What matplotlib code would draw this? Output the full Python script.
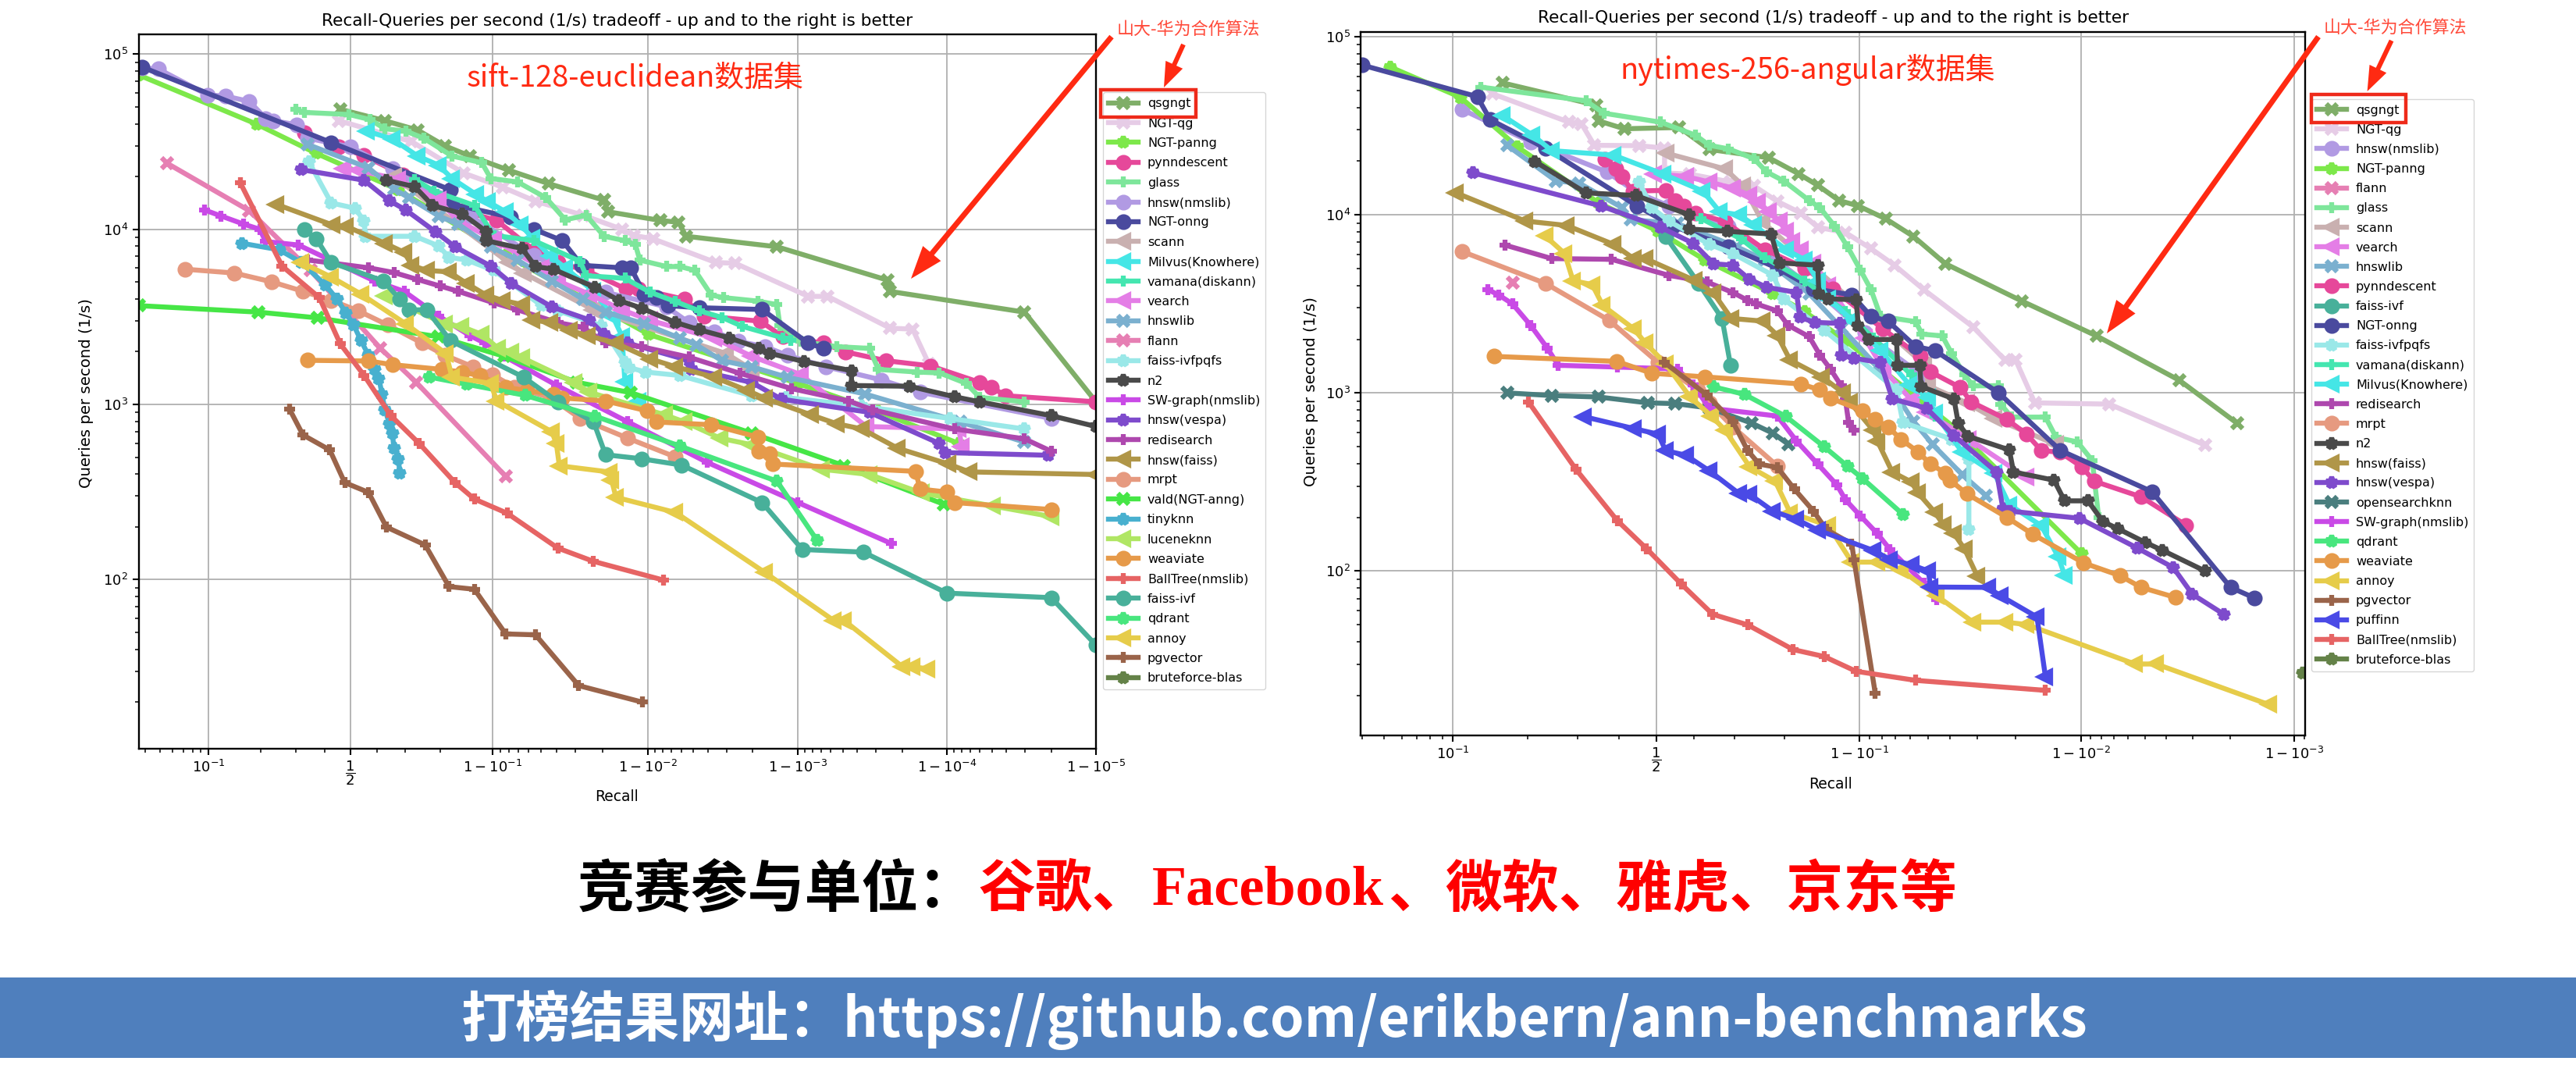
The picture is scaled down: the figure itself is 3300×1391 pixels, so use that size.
import numpy as np
import matplotlib
matplotlib.use('Agg')
from matplotlib import pyplot as plt
from matplotlib.patches import FancyArrow, Rectangle

W, H = 3300, 1391
plt.rcParams['font.family'] = ['DejaVu Sans']
plt.rcParams['mathtext.fontset'] = 'dejavusans'

# Curves as log10(recall odds) (x) and log10(QPS) (y),
# both axes being decade scales there. Converted to recall and QPS before plotting.
sift_qsgngt_x = [-0.07, 0.227, 0.45, 0.63, 0.80, 1.064, 1.33, 1.70, 1.725, 2.08, 2.2, 2.25, 2.86, 3.6, 3.62, 4.52, 5.0]
sift_qsgngt_y = [4.685, 4.62, 4.566, 4.477, 4.418, 4.336, 4.26, 4.166, 4.10, 4.05, 4.04, 3.96, 3.90, 3.71, 3.645, 3.527, 3.015]
sift_ngtqg_x = [-0.08, 0.41, 0.76, 1.02, 1.24, 1.56, 1.82, 1.9, 2.03, 2.45, 2.58, 3.07, 3.2, 3.62, 3.77, 3.88]
sift_ngtqg_y = [4.62, 4.50, 4.32, 4.24, 4.16, 4.08, 4.0, 3.965, 3.945, 3.81, 3.806, 3.617, 3.617, 3.435, 3.43, 3.23]
sift_panng_x = [-1.42, -0.63, -0.23, 0.32, 1.04, 2.0, 3.0, 3.54, 4.08]
sift_panng_y = [4.88, 4.60, 4.433, 4.225, 3.853, 3.4, 3.12, 2.96, 2.777]
sift_pynn_x = [-0.31, -0.08, 0.09, 0.35, 0.75, 0.98, 1.23, 1.39, 1.58, 1.845, 1.93, 2.24, 2.37, 2.75, 2.9, 3.17, 3.32, 3.59, 3.89, 4.22, 4.3, 4.39, 5.0]
sift_pynn_y = [4.55, 4.47, 4.42, 4.31, 4.106, 4.05, 3.88, 3.81, 3.765, 3.66, 3.66, 3.60, 3.505, 3.475, 3.386, 3.35, 3.3, 3.25, 3.22, 3.126, 3.1, 3.05, 3.015]
sift_glass_x = [-0.37, -0.31, -0.01, 0.13, 0.23, 0.37, 0.49, 0.68, 0.88, 0.94, 1.12, 1.31, 1.44, 1.58, 1.70, 1.84, 1.91, 1.94, 2.12, 2.21, 2.31, 2.42, 2.5, 2.73, 2.86, 2.88, 3.02, 3.26, 3.48, 3.54, 3.8, 3.95, 4.13, 4.22, 4.52]
sift_glass_y = [4.685, 4.667, 4.655, 4.626, 4.574, 4.56, 4.52, 4.418, 4.38, 4.29, 4.27, 4.18, 4.054, 4.08, 3.96, 3.935, 3.913, 3.824, 3.787, 3.787, 3.765, 3.624, 3.61, 3.59, 3.57, 3.45, 3.36, 3.33, 3.32, 3.2, 3.185, 3.18, 3.12, 3.04, 3.015]
sift_hnsw_x = [-1.4, -1.29, -0.96, -0.84, -0.68, -0.57, -0.52, -0.36, -0.29, 0.0, 0.28, 0.59, 0.8, 1.23, 1.71, 2.12, 2.27, 2.44, 2.6, 2.78, 2.93, 3.19, 3.56, 3.82, 4.7]
sift_hnsw_y = [4.92, 4.915, 4.767, 4.76, 4.73, 4.633, 4.62, 4.596, 4.52, 4.47, 4.344, 4.18, 4.076, 3.85, 3.64, 3.557, 3.467, 3.416, 3.36, 3.33, 3.28, 3.215, 3.14, 3.07, 2.92]
sift_onng_x = [-1.4, -0.13, 0.67, 0.68, 1.07, 1.23, 1.42, 1.55, 1.82, 1.88, 1.97, 2.05, 2.13, 2.34, 2.76, 3.07, 3.17]
sift_onng_y = [4.926, 4.495, 4.225, 4.143, 4.07, 4.0, 3.935, 3.794, 3.78, 3.78, 3.63, 3.61, 3.564, 3.552, 3.542, 3.35, 3.32]
sift_scann_x = [0.29, 1.06, 1.16, 1.63, 2.52, 2.69]
sift_scann_y = [4.3, 3.81, 3.75, 3.54, 3.29, 3.2]
sift_milvus_x = [0.11, 0.28, 0.45, 0.59, 0.68, 0.84, 0.92, 1.04, 1.14, 1.22, 1.34, 1.44, 1.63, 1.76, 1.82, 1.84, 1.93]
sift_milvus_y = [4.56, 4.515, 4.418, 4.366, 4.29, 4.2, 4.158, 4.1, 4.025, 3.95, 3.846, 3.78, 3.645, 3.5, 3.39, 3.13, 3.02]
sift_vamana_x = [0.43, 0.56, 0.83, 0.96, 1.23, 1.54, 1.58, 1.84, 2.01, 2.18, 2.34, 2.49, 2.63, 2.9, 2.95]
sift_vamana_y = [4.285, 4.217, 4.136, 3.965, 3.935, 3.817, 3.735, 3.72, 3.64, 3.587, 3.534, 3.497, 3.445, 3.38, 3.365]
sift_vearch_x = [-0.05, 0.05, 0.32, 0.59, 0.72, 0.96, 1.28, 1.39, 1.6, 1.82, 2.01, 2.44, 2.69, 3.02, 3.46, 4.08, 4.1]
sift_vearch_y = [4.344, 4.336, 4.285, 4.166, 4.05, 3.94, 3.78, 3.705, 3.63, 3.54, 3.48, 3.378, 3.275, 3.17, 2.874, 2.86, 2.76]
sift_hnswlib_x = [-0.29, 0.12, 0.29, 0.39, 0.59, 0.72, 0.94, 1.12, 1.35, 1.56, 1.71, 1.97, 2.21, 2.32, 2.49, 2.69, 2.93, 3.45, 4.09, 4.52]
sift_hnswlib_y = [4.485, 4.35, 4.23, 4.18, 4.076, 4.03, 3.9, 3.824, 3.705, 3.6, 3.527, 3.46, 3.378, 3.34, 3.25, 3.215, 3.155, 3.06, 2.90, 2.785]
sift_flann_x = [-1.23, -0.68, -0.27, 0.2, 0.44, 1.04]
sift_flann_y = [4.376, 4.106, 3.765, 3.32, 3.126, 2.59]
sift_ivfpq_x = [-0.28, -0.13, 0.03, 0.09, 0.1, 0.43, 0.59, 0.66, 0.78, 0.96, 1.28, 1.39, 1.68, 1.84, 1.87, 1.98, 2.21, 2.69, 2.92, 3.43, 4.02, 4.52]
sift_ivfpq_y = [4.385, 4.15, 4.12, 4.047, 3.96, 3.96, 3.905, 3.84, 3.824, 3.765, 3.565, 3.535, 3.45, 3.24, 3.21, 3.185, 3.165, 3.05, 3.04, 2.99, 2.92, 2.86]
sift_n2_x = [0.24, 0.43, 0.55, 0.75, 0.91, 0.91, 1.15, 1.24, 1.36, 1.64, 1.8, 1.95, 2.18, 2.34, 2.54, 2.74, 2.81, 3.04, 3.36, 3.36, 3.75, 4.05, 4.22, 4.7, 5.0]
sift_n2_y = [4.28, 4.243, 4.136, 4.088, 3.987, 3.935, 3.89, 3.787, 3.772, 3.668, 3.594, 3.55, 3.468, 3.426, 3.38, 3.322, 3.292, 3.245, 3.193, 3.108, 3.104, 3.044, 3.015, 2.936, 2.874]
sift_swgraph_x = [-0.98, -0.87, -0.72, -0.61, -0.57, -0.35, 0.16, 0.36, 0.59, 0.8, 0.9, 1.03, 1.38, 1.86, 2.39, 3.0, 3.63]
sift_swgraph_y = [4.11, 4.076, 4.03, 4.0, 3.93, 3.91, 3.705, 3.645, 3.505, 3.393, 3.35, 3.275, 3.11, 2.90, 2.67, 2.44, 2.205]
sift_vespa_x = [-0.33, 0.09, 0.26, 0.37, 0.57, 0.7, 0.94, 1.08, 1.35, 1.6, 1.7, 1.86, 2.27, 2.29, 2.69, 2.89, 3.48, 3.95, 3.99, 4.68]
sift_vespa_y = [4.34, 4.28, 4.163, 4.11, 3.985, 3.9, 3.79, 3.69, 3.557, 3.483, 3.40, 3.35, 3.25, 3.2, 3.126, 3.03, 2.955, 2.777, 2.725, 2.71]
sift_redis_x = [-0.29, 0.12, 0.29, 0.45, 0.6, 0.72, 0.96, 1.12, 1.39, 1.56, 1.71, 1.95, 2.27, 2.61, 2.96, 3.34, 3.5, 4.05, 4.52, 4.7]
sift_redis_y = [3.825, 3.78, 3.753, 3.713, 3.676, 3.646, 3.58, 3.54, 3.467, 3.44, 3.35, 3.33, 3.27, 3.178, 3.09, 3.02, 2.97, 2.86, 2.804, 2.733]
sift_faiss_x = [-0.5, -0.12, -0.03, 0.23, 0.36, 0.41, 0.51, 0.66, 0.78, 0.91, 1.02, 1.15, 1.22, 1.34, 1.47, 1.59, 1.78, 2.01, 2.18, 2.44, 2.66, 2.78, 3.09, 3.26, 3.43, 3.67, 4.01, 4.15, 5.0]
sift_faiss_y = [4.143, 4.024, 4.017, 3.92, 3.868, 3.794, 3.765, 3.757, 3.69, 3.624, 3.594, 3.57, 3.483, 3.467, 3.423, 3.393, 3.35, 3.26, 3.215, 3.155, 3.08, 3.035, 2.94, 2.89, 2.86, 2.75, 2.66, 2.615, 2.6]
sift_mrpt_x = [-1.11, -0.78, -0.53, -0.32, -0.13, 0.05, 0.25, 0.48, 0.63, 0.82, 0.95, 1.1, 1.34, 1.54, 1.86, 2.18]
sift_mrpt_y = [3.772, 3.75, 3.70, 3.646, 3.594, 3.535, 3.453, 3.35, 3.282, 3.215, 3.17, 3.097, 3.04, 2.92, 2.807, 2.70]
sift_vald_x = [-1.42, -0.62, -0.22, 0.59, 1.03, 1.52, 1.88, 2.69, 3.31, 3.98]
sift_vald_y = [3.564, 3.527, 3.494, 3.386, 3.275, 3.126, 3.067, 2.836, 2.65, 2.43]
sift_tiny_x = [-0.73, -0.48, -0.33, -0.17, -0.09, -0.03, 0.02, 0.07, 0.12, 0.16, 0.19, 0.21, 0.23, 0.26, 0.28, 0.29, 0.32, 0.33]
sift_tiny_y = [3.92, 3.883, 3.81, 3.683, 3.6, 3.52, 3.453, 3.364, 3.28, 3.2, 3.148, 3.06, 2.97, 2.89, 2.837, 2.75, 2.69, 2.61]
sift_lucene_x = [0.23, 0.63, 0.74, 0.88, 0.99, 1.08, 1.15, 1.5, 1.6, 2.11, 2.24, 2.48, 2.69, 3.16, 3.48, 3.83, 4.31, 4.7]
sift_lucene_y = [3.62, 3.46, 3.446, 3.4, 3.32, 3.3, 3.267, 3.126, 3.07, 2.94, 2.9, 2.807, 2.77, 2.63, 2.6, 2.495, 2.42, 2.36]
sift_weaviate_x = [-0.29, 0.12, 0.28, 0.61, 0.75, 0.87, 1.04, 1.18, 1.36, 1.42, 1.71, 1.99, 2.05, 2.42, 2.73, 2.74, 2.81, 2.83, 3.79, 3.82, 4.0, 4.05, 4.7]
sift_weaviate_y = [3.252, 3.248, 3.227, 3.2, 3.185, 3.163, 3.097, 3.08, 3.06, 3.037, 3.02, 2.963, 2.9, 2.884, 2.814, 2.733, 2.718, 2.66, 2.618, 2.517, 2.5, 2.44, 2.4]
sift_ball_x = [-0.74, -0.46, -0.21, -0.07, 0.09, 0.27, 0.46, 0.7, 0.83, 1.05, 1.39, 1.63, 2.1]
sift_ball_y = [4.265, 3.79, 3.61, 3.346, 3.166, 2.936, 2.777, 2.554, 2.46, 2.379, 2.18, 2.104, 1.997]
sift_ivf_x = [-0.31, -0.23, -0.13, 0.22, 0.33, 0.39, 0.51, 0.67, 1.16, 1.39, 1.63, 1.71, 1.95, 2.22, 2.76, 3.03, 3.44, 4.0, 4.7, 5.0]
sift_ivf_y = [4.0, 3.946, 3.81, 3.705, 3.6, 3.54, 3.54, 3.364, 3.156, 3.015, 2.90, 2.713, 2.69, 2.654, 2.44, 2.172, 2.157, 1.923, 1.897, 1.626]
sift_qdrant_x = [0.53, 0.78, 1.17, 1.64, 2.21, 2.86, 3.13]
sift_qdrant_y = [3.156, 3.115, 3.052, 2.933, 2.762, 2.562, 2.223]
sift_annoy_x = [-0.33, -0.13, 0.07, 0.37, 0.64, 0.68, 0.94, 0.98, 1.35, 1.38, 1.4, 1.74, 1.75, 1.78, 2.18, 2.78, 3.24, 3.31, 3.7, 3.77, 3.87]
sift_annoy_y = [3.81, 3.727, 3.63, 3.46, 3.29, 3.156, 3.12, 3.02, 2.844, 2.777, 2.65, 2.614, 2.57, 2.47, 2.383, 2.04, 1.767, 1.767, 1.504, 1.504, 1.49]
sift_pg_x = [-0.41, -0.32, -0.14, -0.04, 0.12, 0.24, 0.5, 0.66, 0.83, 1.04, 1.24, 1.53, 1.96]
sift_pg_y = [2.973, 2.826, 2.74, 2.554, 2.498, 2.30, 2.198, 1.96, 1.945, 1.69, 1.685, 1.395, 1.3]
sift_brute_x = []
sift_brute_y = []

ny_qsgngt_x = [-0.72, -0.28, -0.27, -0.15, 0.11, 0.25, 0.53, 0.67, 0.76, 0.86, 0.95, 1.08, 1.21, 1.36, 1.72, 2.07, 2.46, 2.73]
ny_qsgngt_y = [4.74, 4.615, 4.527, 4.483, 4.49, 4.367, 4.32, 4.23, 4.165, 4.08, 4.05, 3.977, 3.878, 3.725, 3.515, 3.32, 3.07, 2.83]
ny_ngtqg_x = [-0.77, -0.41, -0.35, -0.29, -0.08, 0.04, 0.04, 0.16, 0.35, 0.46, 0.57, 0.68, 0.76, 0.89, 1.01, 1.12, 1.26, 1.49, 1.64, 1.69, 1.78, 2.13, 2.58]
ny_ngtqg_y = [4.68, 4.52, 4.51, 4.39, 4.388, 4.374, 4.235, 4.228, 4.184, 4.162, 4.075, 4.01, 3.93, 3.9, 3.81, 3.717, 3.578, 3.37, 3.184, 3.184, 2.944, 2.937, 2.707]
ny_hnsw_x = [-0.91, -0.59, -0.23, -0.09, 0.06, 0.34, 0.55, 0.77, 0.98, 1.26]
ny_hnsw_y = [4.59, 4.41, 4.24, 4.125, 4.05, 3.935, 3.76, 3.557, 3.337, 3.09]
ny_panng_x = [-1.25, -0.92, -0.65, -0.27, 0.01, 0.23, 0.55, 0.7, 0.89, 1.41, 2.0]
ny_panng_y = [4.83, 4.66, 4.38, 4.067, 3.907, 3.746, 3.557, 3.455, 3.294, 2.798, 2.097]
ny_flann_x = [-0.675]
ny_flann_y = [3.62]
ny_glass_x = [-0.825, -0.33, -0.245, 0.02, 0.185, 0.25, 0.34, 0.46, 0.52, 0.6, 0.72, 0.77, 0.84, 0.9, 0.96, 1.01, 1.055, 1.22, 1.25, 1.345, 1.39, 1.45, 1.49, 1.61, 1.62, 1.67, 1.83, 1.88, 1.98, 2.05, 2.08]
ny_glass_y = [4.717, 4.64, 4.57, 4.52, 4.447, 4.39, 4.37, 4.315, 4.24, 4.19, 4.08, 4.04, 3.935, 3.82, 3.69, 3.58, 3.43, 3.4, 3.33, 3.32, 3.22, 3.1, 3.04, 3.04, 2.937, 2.864, 2.864, 2.75, 2.725, 2.62, 2.3]
ny_scann_x = [0.05, 0.325, 0.41, 0.5, 1.26, 1.28, 1.46, 1.59, 1.88]
ny_scann_y = [4.345, 4.257, 4.162, 3.96, 3.16, 3.04, 2.944, 2.856, 2.71]
ny_vearch_x = [-0.01, 0.14, 0.25, 0.36, 0.44, 0.48, 0.53, 0.58, 0.61, 0.64, 0.68, 0.74, 0.81, 0.98, 1.07, 1.2, 1.27, 1.47, 1.74]
ny_vearch_y = [4.23, 4.215, 4.184, 4.15, 4.11, 4.07, 4.02, 3.965, 3.907, 3.85, 3.805, 3.73, 3.6, 3.31, 3.13, 2.96, 2.893, 2.74, 2.526]
ny_hnswlib_x = [-0.7, -0.47, -0.36, -0.16, -0.12, 0.1, 0.38, 0.51, 0.72, 0.87, 1.04, 1.21, 1.3, 1.44, 1.55]
ny_hnswlib_y = [4.39, 4.19, 4.177, 4.04, 3.973, 3.95, 3.82, 3.746, 3.557, 3.367, 3.147, 2.84, 2.71, 2.54, 2.424]
ny_pynn_x = [-0.24, -0.19, -0.16, -0.11, 0.045, 0.09, 0.13, 0.185, 0.325, 0.51, 0.7, 0.83, 1.065, 1.24, 1.29, 1.43, 1.48, 1.65, 1.74, 1.81, 1.9, 2.0, 2.06, 2.28, 2.49]
ny_pynn_y = [4.31, 4.257, 4.213, 4.133, 4.137, 4.08, 4.05, 4.01, 3.96, 3.805, 3.7, 3.585, 3.36, 3.206, 3.118, 3.03, 2.95, 2.85, 2.77, 2.677, 2.666, 2.585, 2.504, 2.416, 2.258]
ny_ivf_x = [0.045, 0.2, 0.31, 0.35]
ny_ivf_y = [3.878, 3.615, 3.418, 3.155]
ny_onng_x = [-1.38, -0.84, -0.78, -0.52, -0.09, 0.08, 0.34, 0.57, 0.74, 0.92, 1.01, 1.09, 1.22, 1.31, 1.61, 1.9, 2.33, 2.7, 2.81]
ny_onng_y = [4.84, 4.663, 4.534, 4.374, 4.05, 3.936, 3.82, 3.7, 3.585, 3.55, 3.43, 3.403, 3.26, 3.238, 3.0, 2.677, 2.446, 1.908, 1.85]
ny_ivfpq_x = [-0.08, -0.02, 0.06, 0.25, 0.36, 0.55, 0.6, 0.79, 1.13, 1.16, 1.39, 1.47, 1.47]
ny_ivfpq_y = [4.184, 4.04, 3.965, 3.834, 3.783, 3.66, 3.527, 3.352, 3.017, 2.834, 2.74, 2.63, 2.233]
ny_vamana_x = [0.21, 0.4, 0.51, 0.7, 0.89, 1.02, 1.2, 1.31]
ny_vamana_y = [3.98, 3.864, 3.76, 3.63, 3.455, 3.31, 3.1, 2.87]
ny_milvus_x = [-0.72, -0.58, -0.49, -0.2, 0.035, 0.22, 0.3, 0.39, 0.46, 0.61, 0.7, 0.76, 0.81, 0.92, 1.055, 1.19, 1.28, 1.31, 1.44, 1.59, 1.66, 1.81, 1.89, 1.92]
ny_milvus_y = [4.556, 4.447, 4.36, 4.335, 4.228, 4.133, 4.016, 4.0, 3.943, 3.805, 3.746, 3.63, 3.527, 3.41, 3.236, 3.047, 2.973, 2.886, 2.666, 2.548, 2.372, 2.255, 2.08, 1.977]
ny_redis_x = [-0.71, -0.49, -0.21, 0.06, 0.24, 0.36, 0.43, 0.47, 0.57, 0.62, 0.72, 0.77, 0.82, 0.87, 0.89, 0.905, 0.93]
ny_redis_y = [3.83, 3.754, 3.75, 3.66, 3.622, 3.564, 3.52, 3.5, 3.46, 3.38, 3.315, 3.213, 3.133, 3.04, 2.96, 2.834, 2.79]
ny_mrpt_x = [-0.91, -0.52, -0.22, 0.01, 0.195, 0.25, 0.36, 0.57]
ny_mrpt_y = [3.793, 3.615, 3.407, 3.17, 3.017, 2.944, 2.81, 2.59]
ny_n2_x = [-0.57, -0.33, -0.095, 0.157, 0.157, 0.335, 0.54, 0.58, 0.76, 0.765, 0.81, 0.94, 0.95, 1.0, 1.13, 1.135, 1.24, 1.245, 1.4, 1.42, 1.465, 1.66, 1.68, 1.87, 1.92, 2.03, 2.1, 2.17, 2.3, 2.38, 2.58]
ny_n2_y = [4.3, 4.123, 4.108, 4.0, 3.92, 3.907, 3.892, 3.73, 3.717, 3.556, 3.527, 3.524, 3.38, 3.3, 3.3, 3.155, 3.155, 3.036, 2.966, 2.83, 2.757, 2.68, 2.556, 2.51, 2.394, 2.394, 2.277, 2.238, 2.16, 2.116, 2.0]
ny_faiss_x = [-0.94, -0.615, -0.42, -0.2, -0.105, -0.05, 0.18, 0.27, 0.354, 0.5, 0.57, 0.63, 0.78, 0.88, 0.91, 1.02, 1.04, 1.11, 1.2, 1.23, 1.31, 1.35, 1.4, 1.45, 1.51]
ny_faiss_y = [4.123, 3.965, 3.94, 3.834, 3.754, 3.754, 3.632, 3.56, 3.418, 3.403, 3.323, 3.184, 3.09, 3.0, 2.95, 2.79, 2.73, 2.556, 2.5, 2.44, 2.33, 2.26, 2.21, 2.123, 1.97]
ny_vespa_x = [-0.86, -0.26, 0.02, 0.175, 0.27, 0.36, 0.44, 0.52, 0.66, 0.675, 0.745, 0.865, 0.87, 0.93, 1.055, 1.11, 1.27, 1.4, 1.6, 1.63, 1.665, 1.99, 2.26, 2.43, 2.52, 2.67]
ny_vespa_y = [4.235, 4.05, 3.93, 3.84, 3.725, 3.717, 3.637, 3.593, 3.564, 3.425, 3.396, 3.39, 3.213, 3.195, 3.17, 2.966, 2.915, 2.76, 2.556, 2.35, 2.336, 2.296, 2.13, 2.02, 1.87, 1.756]
ny_opensearch_x = [-0.7, -0.49, -0.27, -0.04, 0.09, 0.25, 0.45, 0.55, 0.62]
ny_opensearch_y = [3.0, 2.985, 2.977, 2.944, 2.94, 2.915, 2.83, 2.773, 2.713]
ny_swgraph_x = [-0.79, -0.74, -0.675, -0.59, -0.51, -0.46, -0.18, 0.1, 0.175, 0.25, 0.57, 0.66, 0.76, 0.85, 0.89, 0.96, 1.04, 1.1, 1.26, 1.32]
ny_swgraph_y = [3.58, 3.55, 3.5, 3.38, 3.25, 3.155, 3.145, 3.134, 3.045, 2.915, 2.87, 2.73, 2.6, 2.483, 2.4, 2.31, 2.21, 2.12, 1.93, 1.84]
ny_qdrant_x = [0.27, 0.415, 0.61, 0.79, 0.9, 0.97, 1.16]
ny_qdrant_y = [3.034, 2.992, 2.868, 2.698, 2.588, 2.52, 2.318]
ny_weaviate_x = [-0.76, -0.185, -0.02, 0.23, 0.68, 0.77, 0.82, 0.97, 1.03, 1.09, 1.15, 1.23, 1.29, 1.36, 1.38, 1.46, 1.65, 1.77, 2.01, 2.18, 2.28, 2.44]
ny_weaviate_y = [3.205, 3.177, 3.11, 3.09, 3.05, 3.017, 2.97, 2.9, 2.85, 2.81, 2.74, 2.67, 2.6, 2.55, 2.512, 2.434, 2.3, 2.207, 2.045, 1.974, 1.908, 1.852]
ny_annoy_x = [-0.52, -0.43, -0.39, -0.3, -0.25, -0.105, -0.05, 0.045, 0.16, 0.26, 0.325, 0.44, 0.56, 0.63, 0.81, 0.92, 1.04, 1.15, 1.32, 1.49, 1.64, 1.74, 2.25, 2.35, 2.88]
ny_annoy_y = [3.88, 3.783, 3.63, 3.608, 3.49, 3.36, 3.28, 3.163, 2.977, 2.87, 2.79, 2.585, 2.504, 2.328, 2.255, 2.05, 2.05, 2.006, 1.86, 1.713, 1.713, 1.7, 1.478, 1.478, 1.25]
ny_pg_x = [0.04, 0.24, 0.36, 0.43, 0.485, 0.57, 0.65, 0.74, 0.8, 0.92, 0.93, 1.03]
ny_pg_y = [3.17, 2.988, 2.84, 2.677, 2.6, 2.582, 2.46, 2.336, 2.233, 2.152, 2.065, 1.314]
ny_puffinn_x = [-0.34, -0.105, 0.01, 0.045, 0.14, 0.25, 0.39, 0.44, 0.55, 0.66, 0.76, 1.02, 1.1, 1.2, 1.28, 1.29, 1.56, 1.62, 1.79, 1.83]
ny_puffinn_y = [2.867, 2.8, 2.768, 2.676, 2.65, 2.563, 2.435, 2.43, 2.336, 2.29, 2.23, 2.116, 2.065, 2.035, 2.0, 1.91, 1.908, 1.86, 1.742, 1.405]
ny_ball_x = [-0.6, -0.376, -0.183, -0.045, 0.12, 0.266, 0.43, 0.644, 0.79, 0.94, 1.22, 1.83]
ny_ball_y = [2.95, 2.57, 2.284, 2.126, 1.925, 1.757, 1.698, 1.559, 1.52, 1.437, 1.386, 1.33]
ny_brute_x = [3.04]
ny_brute_y = [1.427]

sift_xticks = [0.1, 0.5, 0.9, 0.99, 0.999, 0.9999, 0.99999]
sift_xticklabels = ['$10^{-1}$', r'$\dfrac{1}{2}$', '$1-10^{-1}$', '$1-10^{-2}$', '$1-10^{-3}$', '$1-10^{-4}$', '$1-10^{-5}$']
ny_xticks = [0.1, 0.5, 0.9, 0.99, 0.999]
ny_xticklabels = ['$10^{-1}$', r'$\dfrac{1}{2}$', '$1-10^{-1}$', '$1-10^{-2}$', '$1-10^{-3}$']

colors = {'qsgngt': '#7fae68', 'NGT-qg': '#e6cce6', 'NGT-panng': '#7de84a', 'pynndescent': '#e6489a',
          'glass': '#7ee69b', 'hnsw(nmslib)': '#b19ae3', 'NGT-onng': '#4a4a9e', 'scann': '#c9b0b0',
          'Milvus(Knowhere)': '#45e6e6', 'vamana(diskann)': '#44e6b0', 'vearch': '#e47ee6', 'hnswlib': '#7bb0cf',
          'flann': '#e67fb3', 'faiss-ivfpqfs': '#9ae8e8', 'n2': '#4a4a4a', 'SW-graph(nmslib)': '#c94ae6',
          'hnsw(vespa)': '#7e4bcc', 'redisearch': '#ae48ae', 'hnsw(faiss)': '#b09648', 'mrpt': '#e69a80',
          'vald(NGT-anng)': '#46e646', 'tinyknn': '#48b0cf', 'luceneknn': '#b0e664', 'weaviate': '#e69a4a',
          'BallTree(nmslib)': '#e66464', 'faiss-ivf': '#48b09a', 'qdrant': '#48e67e', 'annoy': '#e6cc4a',
          'pgvector': '#9a644a', 'bruteforce-blas': '#648248', 'opensearchknn': '#4a7e7e', 'puffinn': '#4a4ae6'}
markers = {'qsgngt': 'x', 'NGT-qg': 'x', 'NGT-panng': '*', 'pynndescent': 'o', 'glass': '+', 'hnsw(nmslib)': 'o',
           'NGT-onng': 'o', 'scann': '<', 'Milvus(Knowhere)': '<', 'vamana(diskann)': '+', 'vearch': '<', 'hnswlib': 'x',
           'flann': 'x', 'faiss-ivfpqfs': '*', 'n2': '*', 'SW-graph(nmslib)': '+', 'hnsw(vespa)': '*', 'redisearch': '+',
           'hnsw(faiss)': '<', 'mrpt': 'o', 'vald(NGT-anng)': 'x', 'tinyknn': '*', 'luceneknn': '<', 'weaviate': 'o',
           'BallTree(nmslib)': '+', 'faiss-ivf': 'o', 'qdrant': '*', 'annoy': '<', 'pgvector': '+', 'bruteforce-blas': '*',
           'opensearchknn': 'x', 'puffinn': '<'}

sift_series = [('qsgngt', sift_qsgngt_x, sift_qsgngt_y), ('NGT-qg', sift_ngtqg_x, sift_ngtqg_y),
               ('NGT-panng', sift_panng_x, sift_panng_y), ('pynndescent', sift_pynn_x, sift_pynn_y),
               ('glass', sift_glass_x, sift_glass_y), ('hnsw(nmslib)', sift_hnsw_x, sift_hnsw_y),
               ('NGT-onng', sift_onng_x, sift_onng_y), ('scann', sift_scann_x, sift_scann_y),
               ('Milvus(Knowhere)', sift_milvus_x, sift_milvus_y), ('vamana(diskann)', sift_vamana_x, sift_vamana_y),
               ('vearch', sift_vearch_x, sift_vearch_y), ('hnswlib', sift_hnswlib_x, sift_hnswlib_y),
               ('flann', sift_flann_x, sift_flann_y), ('faiss-ivfpqfs', sift_ivfpq_x, sift_ivfpq_y),
               ('n2', sift_n2_x, sift_n2_y), ('SW-graph(nmslib)', sift_swgraph_x, sift_swgraph_y),
               ('hnsw(vespa)', sift_vespa_x, sift_vespa_y), ('redisearch', sift_redis_x, sift_redis_y),
               ('hnsw(faiss)', sift_faiss_x, sift_faiss_y), ('mrpt', sift_mrpt_x, sift_mrpt_y),
               ('vald(NGT-anng)', sift_vald_x, sift_vald_y), ('tinyknn', sift_tiny_x, sift_tiny_y),
               ('luceneknn', sift_lucene_x, sift_lucene_y), ('weaviate', sift_weaviate_x, sift_weaviate_y),
               ('BallTree(nmslib)', sift_ball_x, sift_ball_y), ('faiss-ivf', sift_ivf_x, sift_ivf_y),
               ('qdrant', sift_qdrant_x, sift_qdrant_y), ('annoy', sift_annoy_x, sift_annoy_y),
               ('pgvector', sift_pg_x, sift_pg_y), ('bruteforce-blas', sift_brute_x, sift_brute_y)]
ny_series = [('qsgngt', ny_qsgngt_x, ny_qsgngt_y), ('NGT-qg', ny_ngtqg_x, ny_ngtqg_y),
             ('hnsw(nmslib)', ny_hnsw_x, ny_hnsw_y), ('NGT-panng', ny_panng_x, ny_panng_y),
             ('flann', ny_flann_x, ny_flann_y), ('glass', ny_glass_x, ny_glass_y),
             ('scann', ny_scann_x, ny_scann_y), ('vearch', ny_vearch_x, ny_vearch_y),
             ('hnswlib', ny_hnswlib_x, ny_hnswlib_y), ('pynndescent', ny_pynn_x, ny_pynn_y),
             ('faiss-ivf', ny_ivf_x, ny_ivf_y), ('NGT-onng', ny_onng_x, ny_onng_y),
             ('faiss-ivfpqfs', ny_ivfpq_x, ny_ivfpq_y), ('vamana(diskann)', ny_vamana_x, ny_vamana_y),
             ('Milvus(Knowhere)', ny_milvus_x, ny_milvus_y), ('redisearch', ny_redis_x, ny_redis_y),
             ('mrpt', ny_mrpt_x, ny_mrpt_y), ('n2', ny_n2_x, ny_n2_y),
             ('hnsw(faiss)', ny_faiss_x, ny_faiss_y), ('hnsw(vespa)', ny_vespa_x, ny_vespa_y),
             ('opensearchknn', ny_opensearch_x, ny_opensearch_y), ('SW-graph(nmslib)', ny_swgraph_x, ny_swgraph_y),
             ('qdrant', ny_qdrant_x, ny_qdrant_y), ('weaviate', ny_weaviate_x, ny_weaviate_y),
             ('annoy', ny_annoy_x, ny_annoy_y), ('pgvector', ny_pg_x, ny_pg_y),
             ('puffinn', ny_puffinn_x, ny_puffinn_y), ('BallTree(nmslib)', ny_ball_x, ny_ball_y),
             ('bruteforce-blas', ny_brute_x, ny_brute_y)]

CJK = ['Noto Sans CJK SC', 'DejaVu Sans']
TITLE = 'Recall-Queries per second (1/s) tradeoff - up and to the right is better'

fig = plt.figure(figsize=(W / 100, H / 100), dpi=100)
page = fig.add_axes([0, 0, 1, 1], zorder=0)     # pixel canvas for the pasted-on notes
page.set_xlim(0, W)
page.set_ylim(H, 0)
page.axis('off')
notes = fig.add_axes([0, 0, 1, 1], zorder=5)
notes.set_xlim(0, W)
notes.set_ylim(H, 0)
notes.axis('off')


def to_recall(t):
    odds = 10.0 ** np.array(t, dtype=float)
    return odds / (1 + odds)


def draw_chart(box, series, xlim, ylim, xticks, xticklabels, legend_at, legend_gap, title_y, xlabel_pos, ylabel_pos):
    left, top, right, bottom = box
    ax = fig.add_axes([left / W, 1 - bottom / H, (right - left) / W, (bottom - top) / H], zorder=2)
    for name, x, y in series:
        ax.plot(to_recall(x), 10.0 ** np.array(y, dtype=float), '-', color=colors[name], marker=markers[name],
                label=name, ms=10, mew=4.5, lw=4.6)
    ax.set_xscale('logit')
    ax.set_yscale('log')
    ax.set_xlim(*xlim)
    ax.set_ylim(*ylim)
    ax.set_xticks(xticks, xticklabels)
    ax.grid(True, which='major', color='#b0b0b0', lw=1.3)
    ax.set_axisbelow(True)
    ax.tick_params(which='major', labelsize=13, length=6, width=1.5)
    ax.tick_params(which='minor', length=3.5, width=1.1, labelbottom=False)
    for s in ax.spines.values():
        s.set_linewidth(1.7)
    ax.legend(loc='upper left', bbox_to_anchor=(legend_at[0] / W, 1 - legend_at[1] / H), bbox_transform=fig.transFigure,
              borderaxespad=0, fontsize=11.5, handlelength=2.4, handletextpad=0.73, labelspacing=legend_gap, borderpad=0.45)
    fig.text((left + right) / 2 / W, 1 - title_y / H, TITLE, ha='center', va='center', fontsize=15.6)
    fig.text(xlabel_pos[0] / W, 1 - xlabel_pos[1] / H, 'Recall', ha='center', va='center', fontsize=13.5)
    fig.text(ylabel_pos[0] / W, 1 - ylabel_pos[1] / H, 'Queries per second (1/s)', ha='center', va='center',
             rotation=90, fontsize=14.2)
    return ax


draw_chart((177.5, 44, 1404, 959.3), sift_series, (0.0364, 0.99999), (10.8, 129600), sift_xticks, sift_xticklabels,
           (1412.7, 118), 0.65, 27, (790, 1021), (110, 503))
draw_chart((1743.4, 40.7, 2953, 942.3), ny_series, (0.0394, 0.99911), (11.9, 106500), ny_xticks, ny_xticklabels,
           (2960.7, 126.5), 0.635, 23, (2345, 1004), (1680, 501))

RED = '#ff2a12'
SOFT_RED = '#ff4a3a'


def arrow(x0, y0, x1, y1, w, head_w, head_l):
    notes.add_patch(FancyArrow(x0, y0, x1 - x0, y1 - y0, width=w, head_width=head_w, head_length=head_l,
                               length_includes_head=True, color=RED, lw=0))


notes.text(814, 100, 'sift-128-euclidean数据集', color=RED, fontsize=27.3, family=CJK, ha='center', va='center')
notes.text(2316, 89, 'nytimes-256-angular数据集', color=RED, fontsize=27.3, family=CJK, ha='center', va='center')
notes.text(1522, 38, '山大-华为合作算法', color=SOFT_RED, fontsize=15.8, family=CJK, ha='center', va='center')
notes.text(3068, 36, '山大-华为合作算法', color=SOFT_RED, fontsize=15.8, family=CJK, ha='center', va='center')
arrow(1424, 47, 1167, 357, 7, 30, 42)
arrow(1516, 57, 1491, 112, 6, 24, 32)
arrow(2970, 47, 2699, 427, 7, 30, 42)
arrow(3063.6, 52, 3032.6, 117, 6, 24, 32)
notes.add_patch(Rectangle((1410, 115), 122, 35, fill=False, ec='#ee2a1a', lw=3.2))
notes.add_patch(Rectangle((2961, 121), 121, 36, fill=False, ec='#ee2a1a', lw=3.2))

# bottom banner and contest line
page.add_patch(Rectangle((0, 1252), W, 103, color='#4f7fbd', lw=0))
page.text(1632, 1306, '打榜结果网址：https://github.com/erikbern/ann-benchmarks', color='white',
          fontsize=50.4, fontweight='bold', family=CJK, ha='center', va='center')
page.text(740, 1141, '竞赛参与单位：', color='black', fontsize=52.5, fontweight='bold', family=CJK, ha='left', va='center')
page.text(1253, 1141, '谷歌、', color='#ff0000', fontsize=52.5, fontweight='bold', family=CJK, ha='left', va='center')
page.text(1476, 1141, 'Facebook', color='#ff0000', fontsize=52, fontweight='bold', family='Liberation Serif', ha='left', va='center')
page.text(1778, 1141, '、', color='#ff0000', fontsize=52.5, fontweight='bold', family=CJK, ha='left', va='center')
page.text(1851, 1141, '微软、雅虎、京东等', color='#ff0000', fontsize=52.5, fontweight='bold', family=CJK, ha='left', va='center')

plt.savefig('out.png', dpi=100)
plt.close()
